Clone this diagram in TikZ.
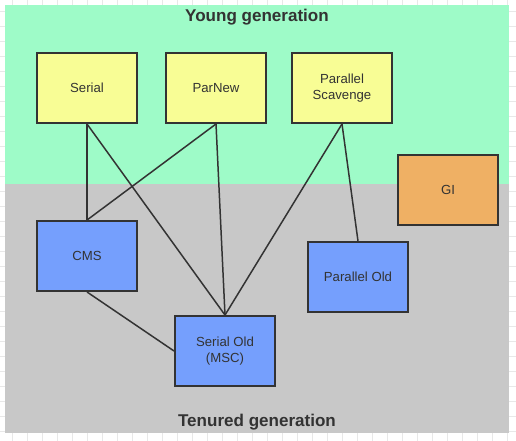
\documentclass[tikz,border=0pt]{standalone}
\usepackage{fontspec}
\setmainfont{Liberation Sans}
\usetikzlibrary{positioning}

\definecolor{younggreen}{RGB}{158,251,200}
\definecolor{tenuredgrey}{RGB}{200,200,200}
\definecolor{gcyellow}{RGB}{248,253,149}
\definecolor{gcblue}{RGB}{117,159,253}
\definecolor{gcorange}{RGB}{239,176,100}
\definecolor{inkgrey}{RGB}{51,51,51}
\definecolor{gridgrey}{RGB}{232,232,232}

\tikzset{
	gc/.style={draw=inkgrey, line width=1.1pt, rectangle, minimum width=100*0.02cm, minimum height=70*0.02cm, align=center, text=inkgrey, font=\fontsize{7.5}{9}\selectfont},
	link/.style={draw=inkgrey, line width=0.85pt},
	title/.style={text=inkgrey, font=\fontsize{9.7}{11}\selectfont\bfseries}
}

\begin{document}
\begin{tikzpicture}[x=0.02cm, y=-0.02cm]
	\useasboundingbox (0,0) rectangle (516,440);
	\draw[gridgrey, line width=0.4pt, step=15*0.02cm, shift={(-3,-3.3)}] (0,0) grid (519,444);

	\fill[younggreen] (5,5) rectangle (509,184);
	\fill[tenuredgrey] (5,184) rectangle (509,433);

	\node[title] (young) at (257,17) {Young generation};
	\node[title] (tenured) at (257,422) {Tenured generation};

	\node[gc, fill=gcyellow] (serial) at (87,88) {Serial};
	\node[gc, fill=gcyellow] (parnew) at (216,88) {ParNew};
	\node[gc, fill=gcyellow] (pscav) at (342,88) {Parallel\\Scavenge};
	\node[gc, fill=gcorange] (gi) at (448,190) {GI};

	\node[gc, fill=gcblue] (cms) at (87,256) {CMS};
	\node[gc, fill=gcblue] (pold) at (358,277) {Parallel Old};
	\node[gc, fill=gcblue] (sold) at (225,351) {Serial Old\\(MSC)};

	\draw[link] (serial.south) -- (cms.north);
	\draw[link] (serial.south) -- (sold.north);
	\draw[link] (parnew.south) -- (cms.north);
	\draw[link] (parnew.south) -- (sold.north);
	\draw[link] (pscav.south) -- (sold.north);
	\draw[link] (pscav.south) -- (pold.north);
	\draw[link] (cms.south) -- (sold.west);

\end{tikzpicture}
\end{document}
